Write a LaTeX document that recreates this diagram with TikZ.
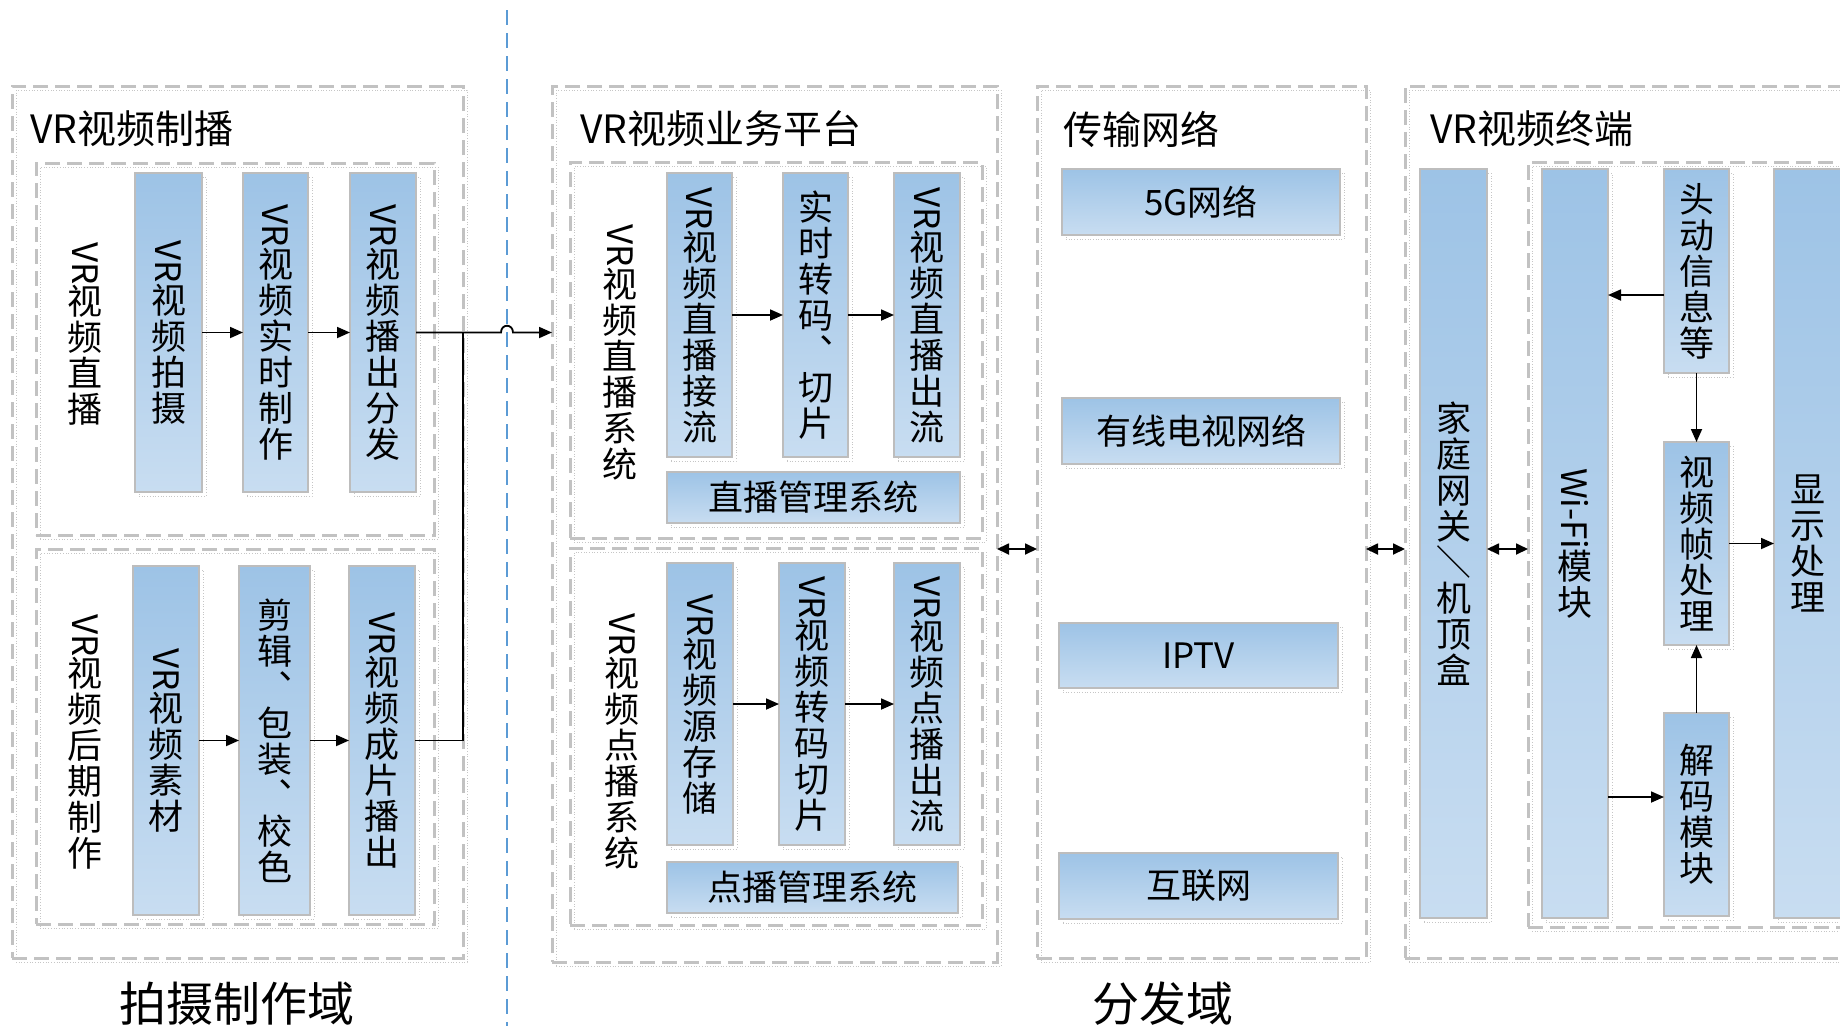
\documentclass[tikz,border=0pt]{standalone}
\usepackage{fontspec}
\setmainfont{Noto Sans CJK SC}
\usepackage{graphicx}
\usetikzlibrary{arrows.meta,calc}
\definecolor{boxtop}{HTML}{9DC3E6}
\definecolor{boxbot}{HTML}{C8DDF1}
\definecolor{boxline}{HTML}{BDBDBD}
\definecolor{dashgrey}{HTML}{C2C2C2}
\definecolor{divblue}{HTML}{5B9BD5}
\newcommand{\rot}[1]{\rotatebox[origin=c]{-90}{#1}}
\newcommand{\vf}{\fontsize{35}{36}\selectfont}
\newcommand{\dun}{︑}
\begin{document}
\begin{tikzpicture}[x=1pt,y=-1pt,
  shad/.style={preaction={draw=gray!45, line width=0.7pt, dotted, transform canvas={shift={(4pt,-4pt)}}}},
  cont/.style={shad, draw=dashgrey, line width=3pt, dash pattern=on 15pt off 7pt, inner sep=0pt, outer sep=0pt},
  bbox/.style={shad, draw=boxline, line width=1.2pt, top color=boxtop, bottom color=boxbot, inner sep=0pt, outer sep=0pt, align=center, font=\vf},
  vlab/.style={align=center, font=\vf, inner sep=0pt},
  title/.style={font=\fontsize{39}{42}\selectfont, inner sep=0pt, anchor=west},
  dom/.style={font=\fontsize{47}{50}\selectfont, inner sep=0pt},
  arr/.style={draw=black, line width=1.8pt, -{Triangle[length=13pt,width=11pt]}},
  dbl/.style={draw=black, line width=1.8pt, {Triangle[length=12pt,width=11pt]}-{Triangle[length=12pt,width=11pt]}},
  divider/.style={draw=divblue, line width=2.6pt, dash pattern=on 15pt off 8pt}
]
\useasboundingbox (0,0) rectangle (1840,1029);
\clip (0,0) rectangle (1840,1029);

% ---------- containers ----------
\node[cont, minimum width=451, minimum height=872] (prod) at (237.5,522) {};
\node[cont, minimum width=398, minimum height=372] (live) at (235,349) {};
\node[cont, minimum width=398, minimum height=375] (post) at (235,736.5) {};

\node[cont, minimum width=445, minimum height=876] (plat) at (774.5,524) {};
\node[cont, minimum width=412, minimum height=376] (lsys) at (776,350) {};
\node[cont, minimum width=412, minimum height=377] (vsys) at (776,736.5) {};

\node[cont, minimum width=329, minimum height=872] (net) at (1201.5,522) {};

\node[cont, minimum width=465, minimum height=872] (term) at (1637.5,522) {};
\node[cont, minimum width=342, minimum height=765] (tin) at (1699,544.5) {};

% ---------- divider ----------
\coordinate (dtop) at (507,10);
\coordinate (dbot) at (507,1026);
\draw[divider] (dtop) -- (dbot);

% ---------- titles ----------
\node[title] (t1) at (30,129) {VR视频制播};
\node[title] (t2) at (580,129) {VR视频业务平台};
\node[title] (t3) at (1063,129) {传输网络};
\node[title] (t4) at (1430,129) {VR视频终端};

\node[dom] (d1) at (237,1004) {拍摄制作域};
\node[dom] (d2) at (1163,1004) {分发域};

% ---------- production ----------
\node[vlab] (lab1) at (85,334) {\rot{VR}\\视\\频\\直\\播};
\node[vlab] (lab2) at (85,742) {\rot{VR}\\视\\频\\后\\期\\制\\作};

\node[bbox, minimum width=67, minimum height=319] (p1) at (168.5,332.5) {\rot{VR}\\视\\频\\拍\\摄};
\node[bbox, minimum width=65, minimum height=319] (p2) at (275.5,332.5) {\rot{VR}\\视\\频\\实\\时\\制\\作};
\node[bbox, minimum width=66, minimum height=319] (p3) at (383,332.5) {\rot{VR}\\视\\频\\播\\出\\分\\发};

\node[bbox, minimum width=66, minimum height=349] (q1) at (166,740.5) {\rot{VR}\\视\\频\\素\\材};
\node[bbox, minimum width=71, minimum height=349] (q2) at (274.5,740.5) {剪\\辑\\\dun\\包\\装\\\dun\\校\\色};
\node[bbox, minimum width=66, minimum height=349] (q3) at (382,740.5) {\rot{VR}\\视\\频\\成\\片\\播\\出};

% ---------- platform ----------
\node[vlab] (lab3) at (620,352) {\rot{VR}\\视\\频\\直\\播\\系\\统};
\node[vlab] (lab4) at (622,741) {\rot{VR}\\视\\频\\点\\播\\系\\统};

\node[bbox, minimum width=65, minimum height=284] (l1) at (699.5,315) {\rot{VR}\\视\\频\\直\\播\\接\\流};
\node[bbox, minimum width=65, minimum height=284] (l2) at (815.5,315) {实\\时\\转\\码\\\dun\\切\\片};
\node[bbox, minimum width=66, minimum height=284] (l3) at (927,315) {\rot{VR}\\视\\频\\直\\播\\出\\流};
\node[bbox, minimum width=293, minimum height=51] (lm) at (813.5,497.5) {直播管理系统};

\node[bbox, minimum width=66, minimum height=282] (v1) at (700,704) {\rot{VR}\\视\\频\\源\\存\\储};
\node[bbox, minimum width=66, minimum height=282] (v2) at (812,704) {\rot{VR}\\视\\频\\转\\码\\切\\片};
\node[bbox, minimum width=66, minimum height=282] (v3) at (927,704) {\rot{VR}\\视\\频\\点\\播\\出\\流};
\node[bbox, minimum width=291, minimum height=51] (vm) at (812.5,887.5) {点播管理系统};

% ---------- network ----------
\node[bbox, minimum width=278, minimum height=66] (n1) at (1201,202) {5G网络};
\node[bbox, minimum width=278, minimum height=66] (n2) at (1201,431) {有线电视网络};
\node[bbox, minimum width=279, minimum height=65] (n3) at (1198.5,655.5) {IPTV};
\node[bbox, minimum width=279, minimum height=66] (n4) at (1198.5,886) {互联网};

% ---------- terminal ----------
\node[bbox, minimum width=67, minimum height=749] (gw) at (1453.5,543.5) {家\\庭\\网\\关\\\rot{／}\\机\\顶\\盒};
\node[bbox, minimum width=66, minimum height=749] (wifi) at (1575,543.5) {\rot{Wi-Fi}\\模\\块};
\node[bbox, minimum width=65, minimum height=204] (head) at (1696.5,271) {头\\动\\信\\息\\等};
\node[bbox, minimum width=65, minimum height=203] (frame) at (1696.5,543.5) {视\\频\\帧\\处\\理};
\node[bbox, minimum width=65, minimum height=203] (dec) at (1696.5,814.5) {解\\码\\模\\块};
\node[bbox, minimum width=68, minimum height=749] (disp) at (1808,543.5) {显\\示\\处\\理};

% ---------- connectors ----------
\draw[arr] (p1.east) -- (p2.west);
\draw[arr] (p2.east) -- (p3.west);
\draw[arr] (q1.east) -- (q2.west);
\draw[arr] (q2.east) -- (q3.west);

\coordinate (j) at (463,0);
\draw[draw=black, line width=1.8pt] (q3.east) -| (p3.east -| j);
\draw[arr] (p3.east) -- ($(p3.east -| dtop)+(-6,0)$)
  .. controls +(0,-9) and +(0,-9) .. ($(p3.east -| dtop)+(6,0)$)
  -- (p3.east -| plat.west);

\draw[arr] (l1.east) -- (l2.west);
\draw[arr] (l2.east) -- (l3.west);
\draw[arr] (v1.east) -- (v2.west);
\draw[arr] (v2.east) -- (v3.west);

\coordinate (my) at (0,549);
\draw[dbl] (plat.east |- my) -- (net.west |- my);
\draw[dbl] (net.east |- my) -- (term.west |- my);
\draw[dbl] (gw.east |- my) -- (tin.west |- my);

\coordinate (hy) at (0,295);
\draw[arr] (head.west |- hy) -- (wifi.east |- hy);
\draw[arr] (head.south) -- (frame.north);
\draw[arr] (frame.east) -- (disp.west |- frame.east);
\draw[arr] (dec.north) -- (frame.south);
\coordinate (dy) at (0,797);
\draw[arr] (wifi.east |- dy) -- (dec.west |- dy);
\end{tikzpicture}
\end{document}
